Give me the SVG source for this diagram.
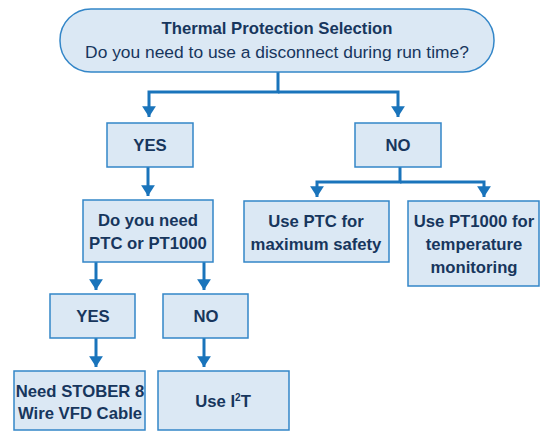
<svg xmlns="http://www.w3.org/2000/svg" width="540" height="432" viewBox="0 0 540 432">
<defs>
<style>
.box{fill:#dbe8f4;stroke:#3386c8;stroke-width:1.5}
.t{font-family:"Liberation Sans",Arial,sans-serif;font-size:16.7px;font-weight:bold;fill:#17365d;text-anchor:middle}
.tn{font-family:"Liberation Sans",Arial,sans-serif;font-size:17.4px;fill:#17365d;text-anchor:middle}
.c{fill:none;stroke:#1a74bb;stroke-width:3}
</style>
<marker id="ah" viewBox="0 0 10 10" refX="10" refY="5" markerWidth="3.6" markerHeight="4.6" orient="auto" markerUnits="strokeWidth" preserveAspectRatio="none">
<path d="M0,0 L10,5 L0,10 z" fill="#1a74bb"/>
</marker>
</defs>
<rect width="540" height="432" fill="#ffffff"/>
<g id="connectors">
<path class="c" d="M278,72 V92 H149 V117" marker-end="url(#ah)"/>
<path class="c" d="M278,92 H398 V117" marker-end="url(#ah)"/>
<path class="c" d="M148,167 V196" marker-end="url(#ah)"/>
<path class="c" d="M400,167 V182 H317 V197" marker-end="url(#ah)"/>
<path class="c" d="M400,182 H484 V197" marker-end="url(#ah)"/>
<path class="c" d="M96,262 V290" marker-end="url(#ah)"/>
<path class="c" d="M204,262 V290" marker-end="url(#ah)"/>
<path class="c" d="M96,338 V367" marker-end="url(#ah)"/>
<path class="c" d="M204,338 V367" marker-end="url(#ah)"/>
</g>
<g id="start">
<rect class="box" x="60" y="9" width="434" height="63" rx="31" ry="31"/>
<text class="t" x="277" y="34">Thermal Protection Selection</text>
<text class="tn" x="277" y="58">Do you need to use a disconnect during run time?</text>
</g>
<g id="yes1">
<rect class="box" x="107" y="123" width="86" height="44"/>
<text class="t" x="150" y="151">YES</text>
</g>
<g id="no1">
<rect class="box" x="355" y="123" width="86" height="44"/>
<text class="t" x="398" y="151">NO</text>
</g>
<g id="q2">
<rect class="box" x="83" y="200" width="130" height="62"/>
<text class="t" x="148" y="226">Do you need</text>
<text class="t" x="148" y="249">PTC or PT1000</text>
</g>
<g id="ptc">
<rect class="box" x="244" y="201" width="145" height="61"/>
<text class="t" x="316" y="227">Use PTC for</text>
<text class="t" x="316" y="250">maximum safety</text>
</g>
<g id="pt1000">
<rect class="box" x="408" y="201" width="131" height="85"/>
<text class="t" x="474" y="227">Use PT1000 for</text>
<text class="t" x="474" y="250">temperature</text>
<text class="t" x="474" y="273">monitoring</text>
</g>
<g id="yes2">
<rect class="box" x="50" y="294" width="85" height="44"/>
<text class="t" x="93" y="322">YES</text>
</g>
<g id="no2">
<rect class="box" x="163" y="294" width="85" height="44"/>
<text class="t" x="206" y="322">NO</text>
</g>
<g id="stober">
<rect class="box" x="14" y="371" width="131" height="59"/>
<text class="t" x="80" y="397">Need STOBER 8</text>
<text class="t" x="80" y="419">Wire VFD Cable</text>
</g>
<g id="i2t">
<rect class="box" x="158" y="371" width="131" height="59"/>
<text class="t" x="223" y="407">Use I<tspan font-size="10" dy="-6">2</tspan><tspan dy="6">T</tspan></text>
</g>
</svg>
